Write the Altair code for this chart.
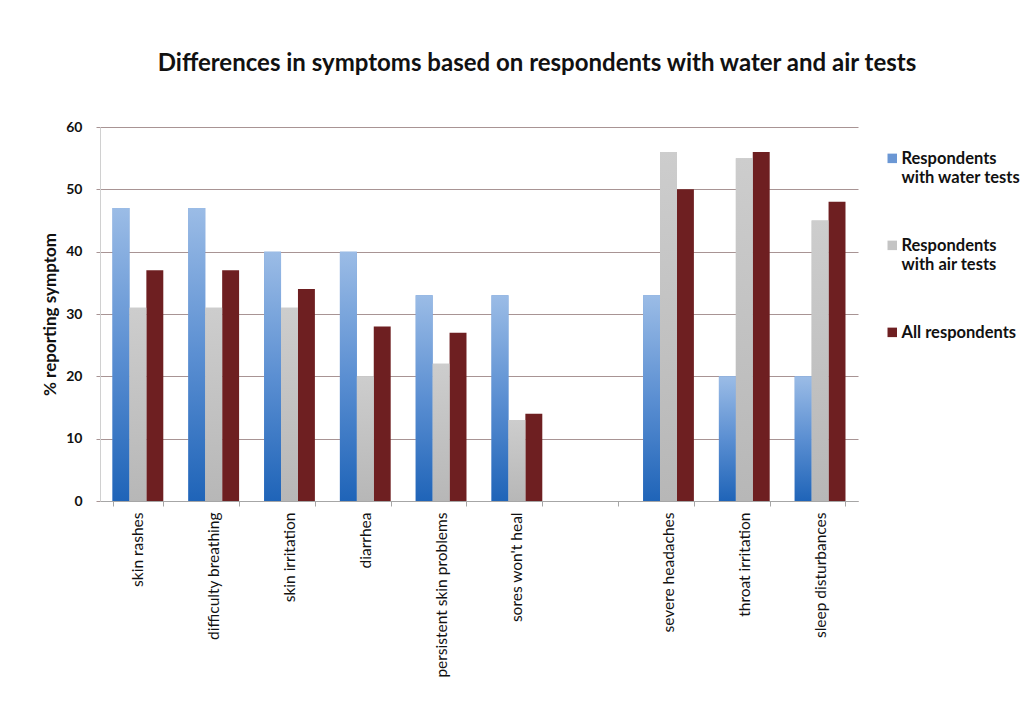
import altair as alt
import pandas as pd

categories = ["skin rashes", "difficulty breathing", "skin irritation", "diarrhea",
              "persistent skin problems", "sores won't heal", " ",
              "severe headaches", "throat irritation", "sleep disturbances"]
symptoms = [c for c in categories if c.strip()]
series = ["Respondents with water tests", "Respondents with air tests", "All respondents"]
water = [47, 47, 40, 40, 33, 33, 33, 20, 20]
air = [31, 31, 31, 20, 22, 13, 56, 55, 45]
all_resp = [37, 37, 34, 28, 27, 14, 50, 56, 48]
y_ticks = [0, 10, 20, 30, 40, 50, 60]

df = pd.DataFrame({
    "symptom": symptoms * 3,
    "series": [s for s in series for _ in symptoms],
    "value": water + air + all_resp,
})

FONT = "Lato"
GRID = "#a89494"

x = alt.X("symptom:N",
          scale=alt.Scale(domain=categories, paddingInner=0.33, paddingOuter=0.165),
          axis=alt.Axis(title=None, labelAngle=-90, tickBand="extent", labelFont=FONT,
                        labelFontSize=15.5, labelColor="#111111", labelPadding=6,
                        domainColor="#a6a6a6", tickColor="#a6a6a6", tickSize=5,
                        labelLimit=300))
y = alt.Y("value:Q",
          scale=alt.Scale(domain=[0, 60]),
          axis=alt.Axis(values=y_ticks, title="% reporting symptom", titleFont=FONT,
                        titleFontSize=17, titleFontWeight="bold", titleColor="#111111",
                        titlePadding=6, labelFont=FONT, labelFontSize=14,
                        labelFontWeight="bold", labelColor="#111111", labelPadding=14,
                        grid=True, gridColor=GRID, gridWidth=1.2, tickColor=GRID,
                        tickSize=4, domainColor="#d0d0d0"))
xo = alt.XOffset("series:N", scale=alt.Scale(domain=series))

base = alt.Chart(df).encode(x=x, y=y, xOffset=xo)

solid = base.mark_bar().encode(
    color=alt.Color("series:N",
                    scale=alt.Scale(domain=series, range=["#6b97d4", "#c4c4c4", "#6e1f21"]),
                    legend=alt.Legend(title=None, orient="none", legendX=784, legendY=16,
                                      symbolType="M-1,0.5H1V2.5H-1Z", symbolSize=90,
                                      labelFont=FONT, labelFontSize=16.5,
                                      labelFontWeight="bold", labelColor="#111111",
                                      labelBaseline="top", rowPadding=43, labelOffset=1,
                                      labelExpr="split(replace(datum.label, ' with', '|with'), '|')"))
)

blue_grad = alt.LinearGradient(
    gradient="linear",
    stops=[alt.GradientStop(color="#9bbce6", offset=0),
           alt.GradientStop(color="#5b8fd2", offset=0.5),
           alt.GradientStop(color="#1f64b8", offset=1)],
    x1=0, x2=0, y1=0, y2=1)
gray_grad = alt.LinearGradient(
    gradient="linear",
    stops=[alt.GradientStop(color="#cdcdcd", offset=0),
           alt.GradientStop(color="#c2c2c2", offset=0.5),
           alt.GradientStop(color="#b7b7b7", offset=1)],
    x1=0, x2=0, y1=0, y2=1)

blue = base.transform_filter(alt.datum.series == series[0]).mark_bar(color=blue_grad)
gray = base.transform_filter(alt.datum.series == series[1]).mark_bar(color=gray_grad)

chart = alt.layer(solid, blue, gray).properties(
    width=758, height=374,
    autosize=alt.AutoSizeParams(type="none"),
    padding={"left": 92, "top": 119, "right": 168, "bottom": 201},
    title=alt.Title("Differences in symptoms based on respondents with water and air tests",
                    font=FONT, fontSize=24, fontWeight="bold", color="#111111",
                    anchor="middle", dx=58, offset=44),
    background="white",
).configure_view(stroke=None)

chart.save("out.html", embed_options={"renderer": "svg", "actions": False})
